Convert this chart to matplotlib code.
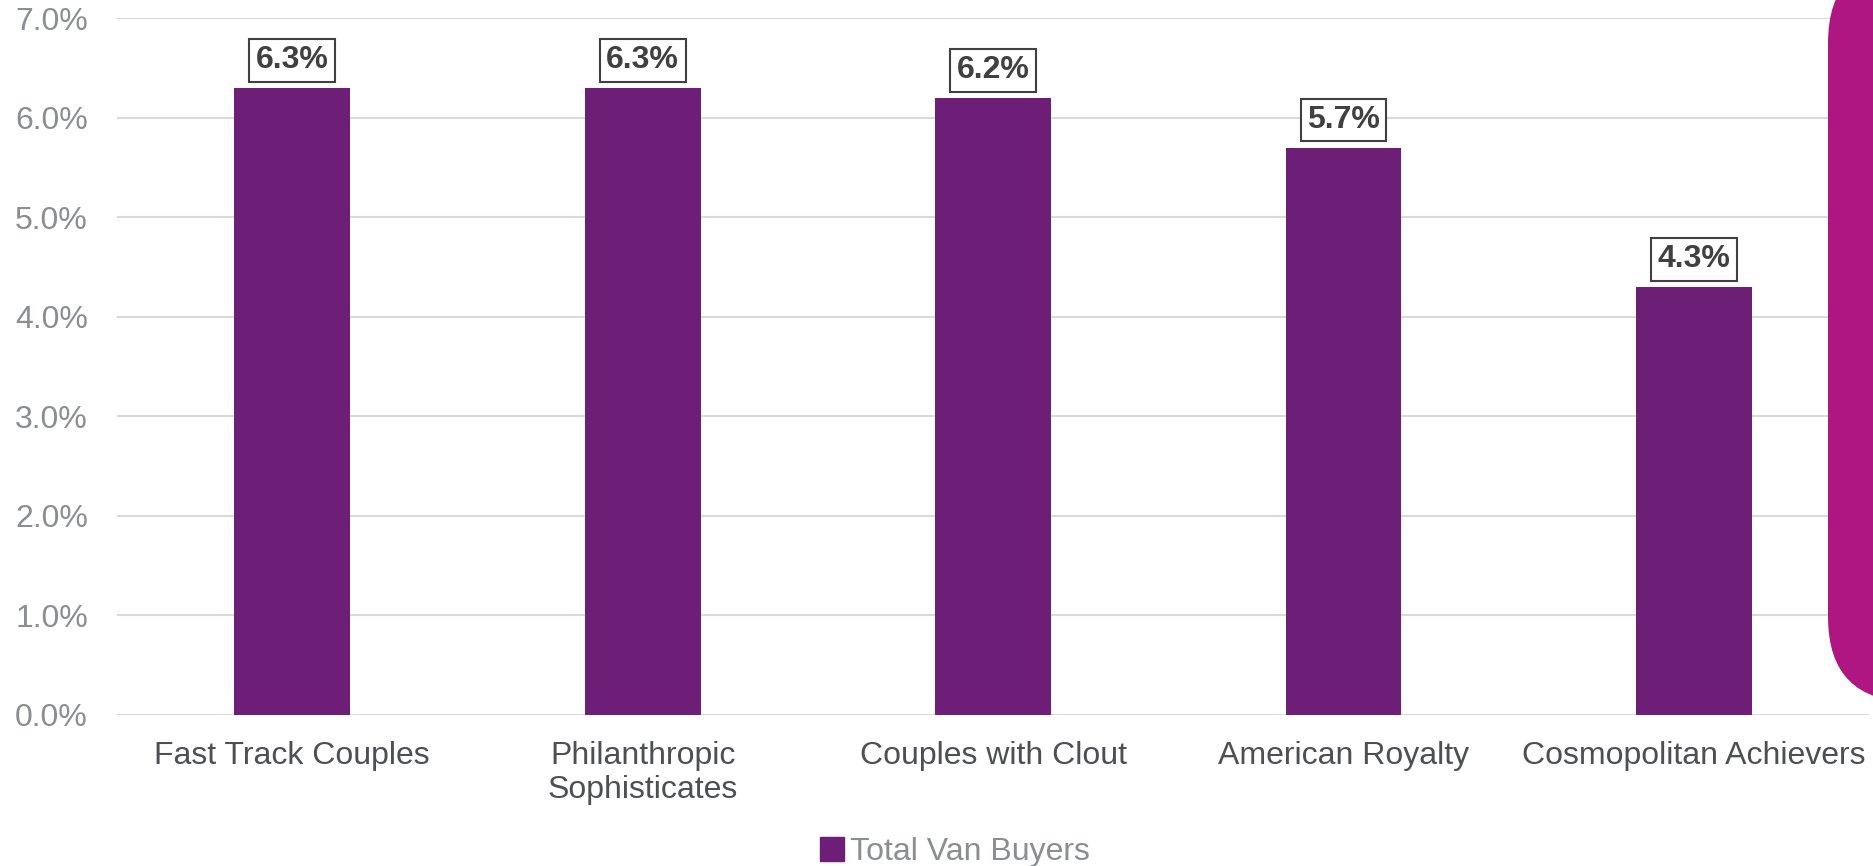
import matplotlib.pyplot as plt
from matplotlib.patches import Patch, FancyBboxPatch
from matplotlib.transforms import IdentityTransform
from matplotlib.ticker import FuncFormatter

# ----------------------- Data -----------------------
segments = ["Fast Track Couples", "Philanthropic\nSophisticates", "Couples with Clout",
            "American Royalty", "Cosmopolitan Achievers"]
van_buyers = [6.3, 6.3, 6.2, 5.7, 4.3]
series_name = "Total Van Buyers"

BAR_COLOR = "#6D1F78"
ACCENT = "#AE1681"
TICK_GREY = "#8A8D91"
LABEL_DARK = "#4D4F53"

plt.rcParams["font.family"] = ["Liberation Sans", "DejaVu Sans"]

# ----------------------- Plot -----------------------
fig = plt.figure(figsize=(18.73, 8.66), dpi=100)
ax = fig.add_axes([0.0625, 0.1744, 0.9355, 0.8046])

x = range(len(segments))
ax.bar(x, van_buyers, width=0.33, color=BAR_COLOR, zorder=3)

for xi, v in zip(x, van_buyers):
    ax.annotate(f"{v:.1f}%", (xi, v), xytext=(0, 9), textcoords="offset points",
                ha="center", va="bottom", fontsize=23, fontweight="bold", color="#404040",
                bbox=dict(boxstyle="square,pad=0.2", fc="white", ec="#404040", lw=1.5),
                zorder=4)

ax.set_ylim(0, 7.0)
ax.set_xlim(-0.5, len(segments) - 0.5)
ax.set_yticks([i for i in range(8)])
ax.yaxis.set_major_formatter(FuncFormatter(lambda v, _: f"{v:.1f}%"))
ax.set_xticks(list(x))
ax.set_xticklabels(segments, fontsize=23, color=LABEL_DARK, linespacing=1.15)
ax.tick_params(axis="y", labelsize=23, labelcolor=TICK_GREY, length=0, pad=21)
ax.tick_params(axis="x", length=0, pad=19)
ax.grid(axis="y", color="#D9D9D9", linewidth=1.5, zorder=0)
for s in ax.spines.values():
    s.set_visible(False)

fig.legend(handles=[Patch(color=BAR_COLOR, label=series_name)], loc="center",
           bbox_to_anchor=(0.51, 0.016), frameon=False, fontsize=23,
           handlelength=0.75, handleheight=0.75, handletextpad=0.2,
           labelcolor=TICK_GREY)

# decorative magenta tab on the right edge (display pixels)
r = 85
tab = FancyBboxPatch((1828 + r, 164 + r), 100, 908 - 164 - 2 * r,
                     boxstyle=f"round,pad={r},rounding_size={r}",
                     transform=IdentityTransform(), fc=ACCENT, ec="none", zorder=10)
fig.patches.append(tab)

fig.savefig("out.png", dpi=100)
